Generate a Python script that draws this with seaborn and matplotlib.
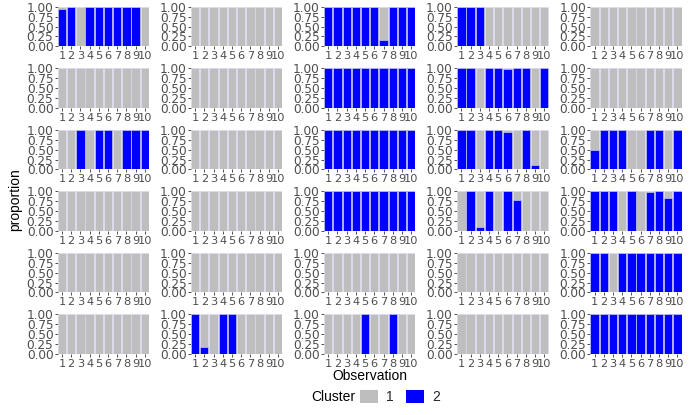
import numpy as np
import pandas as pd
import matplotlib
matplotlib.use("Agg")
import matplotlib.pyplot as plt
from matplotlib.patches import Patch
import seaborn as sns

observations = ["1", "2", "3", "4", "5", "6", "7", "8", "9", "10"]
zeros = [0, 0, 0, 0, 0, 0, 0, 0, 0, 0]
ones = [1, 1, 1, 1, 1, 1, 1, 1, 1, 1]

# proportion of cluster 2 (blue) per observation, one list per panel (row-major)
p01 = [0.95, 1.0, 0.0, 1.0, 1.0, 1.0, 1.0, 1.0, 1.0, 0.02]
p02 = zeros
p03 = [1.0, 1.0, 1.0, 1.0, 1.0, 1.0, 0.15, 1.0, 1.0, 1.0]
p04 = [1.0, 1.0, 1.0, 0.0, 0.0, 0.0, 0.01, 0.0, 0.0, 0.01]
p05 = zeros
p06 = zeros
p07 = zeros
p08 = ones
p09 = [1.0, 1.0, 0.0, 1.0, 1.0, 0.97, 1.0, 1.0, 0.0, 1.0]
p10 = zeros
p11 = [0.0, 0.0, 1.0, 0.0, 1.0, 1.0, 0.01, 1.0, 1.0, 1.0]
p12 = zeros
p13 = ones
p14 = [1.0, 1.0, 0.0, 1.0, 1.0, 0.95, 0.0, 1.0, 0.12, 0.0]
p15 = [0.5, 1.0, 1.0, 1.0, 0.0, 0.0, 1.0, 1.0, 0.0, 1.0]
p16 = zeros
p17 = zeros
p18 = ones
p19 = [0.0, 1.0, 0.1, 1.0, 0.0, 1.0, 0.77, 0.0, 0.0, 0.0]
p20 = [1.0, 1.0, 1.0, 0.0, 1.0, 0.0, 0.99, 1.0, 0.82, 1.0]
p21 = zeros
p22 = zeros
p23 = zeros
p24 = zeros
p25 = [1.0, 1.0, 0.0, 1.0, 1.0, 1.0, 1.0, 1.0, 1.0, 1.0]
p26 = zeros
p27 = [1.0, 0.18, 0.0, 1.0, 1.0, 0.0, 0.0, 0.0, 0.0, 0.0]
p28 = [0.01, 0.0, 0.0, 0.0, 1.0, 0.0, 0.0, 1.0, 0.0, 0.0]
p29 = zeros
p30 = ones

panels = [p01, p02, p03, p04, p05, p06, p07, p08, p09, p10,
          p11, p12, p13, p14, p15, p16, p17, p18, p19, p20,
          p21, p22, p23, p24, p25, p26, p27, p28, p29, p30]

cluster_labels = ["1", "2"]
cluster_colors = ["#BEBEBE", "#0000FF"]

rows = []
for i, vals in enumerate(panels):
    for obs, v in zip(observations, vals):
        rows.append({"panel": i, "Observation": obs, "p2": v, "total": 1.0})
df = pd.DataFrame(rows)

sns.set_theme(style="white")
plt.rcParams['font.family'] = ['Liberation Sans', 'DejaVu Sans']

fig, axes = plt.subplots(6, 5, figsize=(6.92, 4.15), dpi=100)
fig.subplots_adjust(left=57.7 / 692, right=681.7 / 692, top=1 - 6.7 / 415,
                    bottom=1 - 354 / 415, wspace=0.457, hspace=0.55)

for i, ax in enumerate(axes.flat):
    sub = df[df["panel"] == i]
    sns.barplot(data=sub, x="Observation", y="total", order=observations,
                color=cluster_colors[0], saturation=1, errorbar=None, width=0.9,
                edgecolor="#D8D8F4", linewidth=0.4, ax=ax)
    sns.barplot(data=sub, x="Observation", y="p2", order=observations,
                color=cluster_colors[1], saturation=1, errorbar=None, width=0.9,
                edgecolor="#C8C8F4", linewidth=0.5, ax=ax)
    ax.set_xlim(-0.46, 9.46)
    ax.set_ylim(0, 1)
    ax.set_yticks([0, 0.25, 0.5, 0.75, 1.0])
    ax.set_yticklabels(["0.00", "0.25", "0.50", "0.75", "1.00"])
    ax.set_xlabel("")
    ax.set_ylabel("")
    for s in ax.spines.values():
        s.set_visible(False)
    ax.tick_params(axis="both", which="major", length=2.5, width=0.6,
                   color="#333333", labelcolor="#4D4D4D",
                   bottom=True, left=True)
    ax.tick_params(axis="y", pad=0.6, labelsize=8.7)
    ax.tick_params(axis="x", pad=1.0, labelsize=8.2)
    for lab in ax.get_yticklabels() + ax.get_xticklabels():
        lab.set_family("DejaVu Sans")

fig.text(369.7 / 692, 1 - 376 / 415, "Observation", ha="center", va="center",
         fontsize=10, color="black")
fig.text(15 / 692, 1 - 200 / 415, "proportion", ha="center", va="center",
         rotation=90, fontsize=10, color="black")

fig.text(311.7 / 692, 1 - 397 / 415, "Cluster", ha="left", va="center",
         fontsize=10, color="black")
handles = [Patch(facecolor=c, edgecolor="none") for c in cluster_colors]
fig.legend(handles, cluster_labels, loc="center left",
           bbox_to_anchor=(357 / 692, 1 - 397 / 415), ncol=2, frameon=False,
           fontsize=10, handlelength=1.3, handleheight=1.1, handletextpad=0.6,
           columnspacing=0.9, borderaxespad=0, borderpad=0.2)

fig.savefig("out.png", dpi=100)
